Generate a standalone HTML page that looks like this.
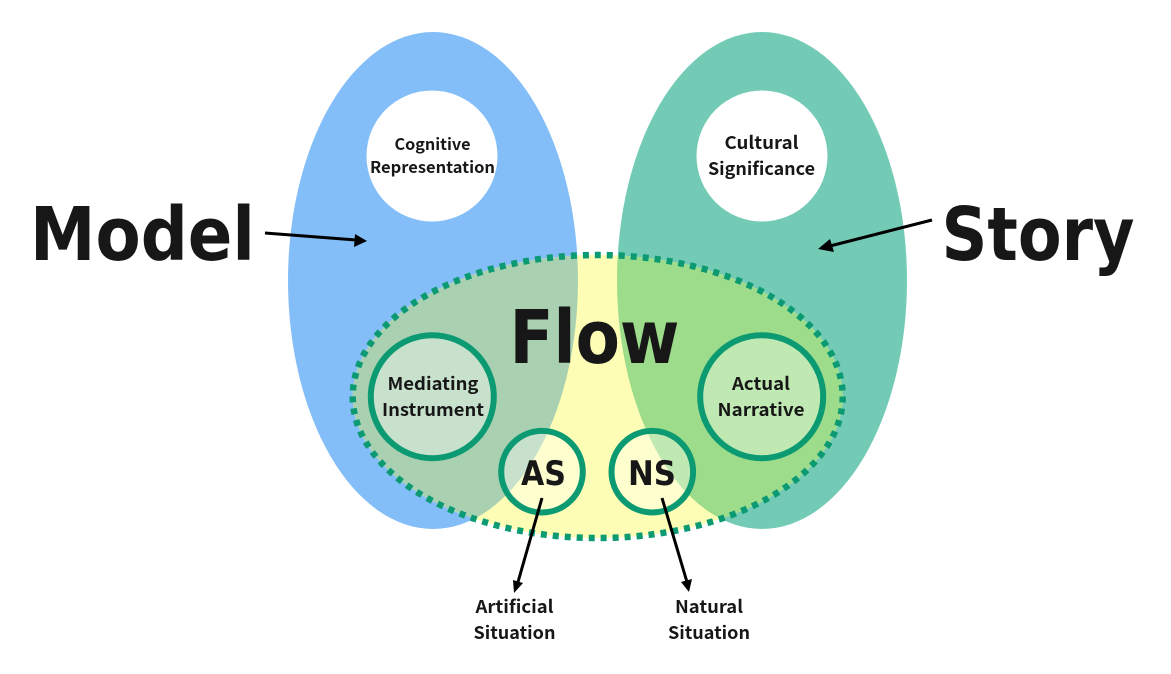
<!DOCTYPE html>
<html><head><meta charset="utf-8">
<style>html,body{margin:0;padding:0;background:#fff;width:1171px;height:674px;overflow:hidden}svg{display:block}
text{font-family:"Noto Sans CJK JP","Liberation Sans",sans-serif;font-weight:700;fill:#171717;text-anchor:middle}
.s{font-size:17.5px}
.b{font-family:"DejaVu Sans",sans-serif;font-weight:700}</style></head>
<body>
<svg width="1171" height="674" viewBox="0 0 1171 674" xmlns="http://www.w3.org/2000/svg">
<defs>
<clipPath id="cl"><ellipse cx="433" cy="280.5" rx="145" ry="248.5"/></clipPath>
<clipPath id="cr"><ellipse cx="762" cy="280.5" rx="145" ry="248.5"/></clipPath>
</defs>
<ellipse cx="433" cy="280.5" rx="145" ry="248.5" fill="#83BEF8"/>
<ellipse cx="762" cy="280.5" rx="145" ry="248.5" fill="#73CBB6"/>
<circle cx="432" cy="156" r="65.5" fill="#fff"/>
<circle cx="762" cy="156" r="65.5" fill="#fff"/>
<ellipse cx="597.7" cy="396.5" rx="245" ry="141.5" fill="#FEFDB6"/>
<g clip-path="url(#cl)"><ellipse cx="597.7" cy="396.5" rx="245" ry="141.5" fill="#A9D1B1"/></g>
<g clip-path="url(#cr)"><ellipse cx="597.7" cy="396.5" rx="245" ry="141.5" fill="#9DDC8A"/></g>
<g fill="#fff" fill-opacity=".35">
<circle cx="432.3" cy="396.7" r="61.5"/>
<circle cx="761.7" cy="396.7" r="61.5"/>
<circle cx="542" cy="471.7" r="41"/>
<circle cx="652.3" cy="471.7" r="41"/>
</g>
<ellipse cx="597.7" cy="396.5" rx="245" ry="141.5" fill="none" stroke="#0B9A72" stroke-width="6.5" stroke-dasharray="6 6"/>
<g fill="none" stroke="#0B9A72" stroke-width="6">
<circle cx="432.3" cy="396.7" r="61.5"/>
<circle cx="761.7" cy="396.7" r="61.5"/>
<circle cx="542" cy="471.7" r="40.8"/>
<circle cx="652.3" cy="471.7" r="40.8"/>
</g>
<g stroke="#000" stroke-width="3" fill="none">
<line x1="265" y1="233" x2="356" y2="240"/>
<line x1="932" y1="220" x2="830" y2="246"/>
<line x1="542" y1="498" x2="518" y2="582"/>
<line x1="662" y1="498" x2="687" y2="582"/>
</g>
<g fill="#000">
<polygon points="367,241 354,247 355,234"/>
<polygon points="818,249 830,239 834,252"/>
<polygon points="514,593 513,580 523,583"/>
<polygon points="689,592 681,582 692,579"/>
</g>
<text class="b" x="142.5" y="260" font-size="74" textLength="225" lengthAdjust="spacingAndGlyphs">Model</text>
<text class="b" x="1038" y="260" font-size="74" textLength="193" lengthAdjust="spacingAndGlyphs">Story</text>
<text class="b" x="594.5" y="363" font-size="74" textLength="170" lengthAdjust="spacingAndGlyphs">Flow</text>
<text class="b" x="543.5" y="485" font-size="34" textLength="45" lengthAdjust="spacingAndGlyphs">AS</text>
<text class="b" x="652" y="485" font-size="34" textLength="48" lengthAdjust="spacingAndGlyphs">NS</text>
<g class="s">
<text class="s" x="432.5" y="150" textLength="76" lengthAdjust="spacingAndGlyphs" style="font-size:16px">Cognitive</text>
<text class="s" x="432.5" y="173" textLength="125" lengthAdjust="spacingAndGlyphs" style="font-size:16px">Representation</text>
<text class="s" x="761.5" y="149" textLength="74" lengthAdjust="spacingAndGlyphs">Cultural</text>
<text class="s" x="761.5" y="175" textLength="107" lengthAdjust="spacingAndGlyphs">Significance</text>
<text class="s" x="433" y="390" textLength="91" lengthAdjust="spacingAndGlyphs">Mediating</text>
<text class="s" x="433" y="416" textLength="102" lengthAdjust="spacingAndGlyphs">Instrument</text>
<text class="s" x="761" y="390" textLength="58" lengthAdjust="spacingAndGlyphs">Actual</text>
<text class="s" x="761" y="416" textLength="87" lengthAdjust="spacingAndGlyphs">Narrative</text>
<text class="s" x="514.5" y="613" textLength="78" lengthAdjust="spacingAndGlyphs">Artificial</text>
<text class="s" x="514.5" y="639" textLength="82" lengthAdjust="spacingAndGlyphs">Situation</text>
<text class="s" x="709" y="613" textLength="68" lengthAdjust="spacingAndGlyphs">Natural</text>
<text class="s" x="709" y="639" textLength="82" lengthAdjust="spacingAndGlyphs">Situation</text>
</g>
</svg>
</body></html>
